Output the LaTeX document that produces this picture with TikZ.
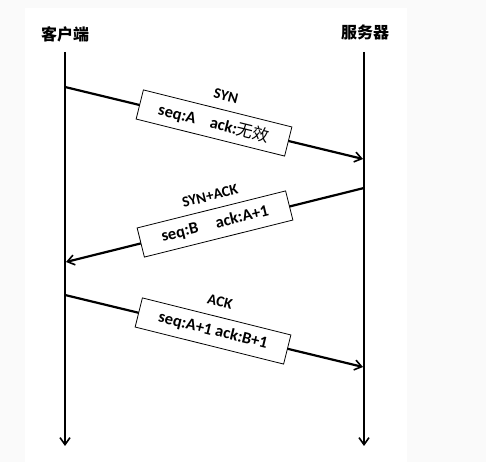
\documentclass[tikz,border=0pt]{standalone}
\usepackage{fontspec}
\setmainfont{Carlito}
\newfontfamily\cjk{Noto Sans CJK SC}
\usetikzlibrary{arrows.meta}
\begin{document}
\begin{tikzpicture}[x=1pt,y=1pt,
  life/.style={line width=1.8pt,-{Straight Barb[length=7pt,width=10pt,line width=1.6pt]}},
  msg/.style={line width=2.2pt,-{Straight Barb[length=7pt,width=10pt,line width=1.6pt]}},
  pbox/.style={draw,line width=0.8pt,fill=white,minimum width=153pt,minimum height=30pt,inner sep=1pt,font=\fontsize{16.5}{18}\selectfont\bfseries},
  plabel/.style={inner sep=0pt,font=\fontsize{15}{16}\selectfont\bfseries},
  actor/.style={font=\cjk\fontsize{16}{18}\selectfont\bfseries}]
\fill[fill={rgb,255:red,250;green,250;blue,250}] (0,0) rectangle (486,462);
\fill[white] (25,0) rectangle (407,454);
\useasboundingbox (0,0) rectangle (486,462);
\node[actor] (c) at (65,428) {客户端};
\node[actor] (s) at (365,430) {服务器};
\coordinate (c0) at (65,410);
\coordinate (c1) at (65,16);
\coordinate (s0) at (364,410);
\coordinate (s1) at (364,16);
\draw[life] (c0) -- (c1);
\draw[life] (s0) -- (s1);
\coordinate (a1) at (65,375);
\coordinate (b1) at (363,303);
\coordinate (a2) at (364,274);
\coordinate (b2) at (66,200);
\coordinate (a3) at (65,167);
\coordinate (b3) at (363,95);
\draw[msg] (a1) -- (b1);
\draw[msg] (a2) -- (b2);
\draw[msg] (a3) -- (b3);
\node[pbox,rotate=-14] (m1) at (214,339) {seq:A\hspace{0.9em}ack:{\cjk\mdseries 无效}};
\node[plabel,rotate=-14] (l1) at (226,366) {SYN};
\node[pbox,rotate=14] (m2) at (215,238) {seq:B\hspace{1.1em}ack:A+1};
\node[plabel,rotate=14] (l2) at (210,266) {SYN+ACK};
\node[pbox,rotate=-14] (m3) at (213,131) {seq:A+1 ack:B+1};
\node[plabel,rotate=-14] (l3) at (220,160) {ACK};
\end{tikzpicture}
\end{document}
